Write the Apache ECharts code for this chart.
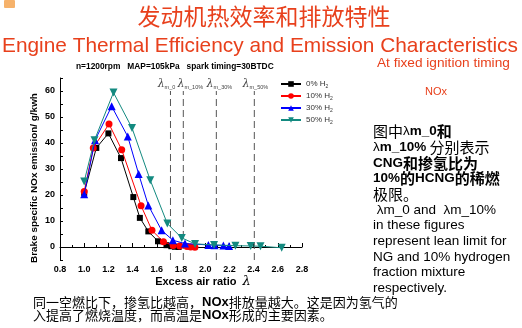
<!DOCTYPE html>
<html><head><meta charset="utf-8">
<script src="https://cdn.jsdelivr.net/npm/echarts@6/dist/echarts.min.js"></script>
<style>html,body{margin:0;padding:0;background:#fff}#c{width:522px;height:328px}</style>
</head><body><div id="c"></div>
<script>
// ---------- data ----------
const seriesNames = ['0% H2', '10% H2', '30% H2', '50% H2'];
const h2_0 = [[1.00,20.8],[1.10,38.1],[1.20,43.7],[1.304,34.2],[1.406,19.2],[1.46,11.2],[1.53,6.0],[1.61,2.2],[1.68,0.7],[1.72,0.3],[1.75,0.1],[1.78,0.0]];
const h2_10 = [[1.00,21.3],[1.075,38.1],[1.205,47.3],[1.31,37.4],[1.47,15.9],[1.56,6.4],[1.655,2.0],[1.735,0.6],[1.79,0.4],[1.85,0.2],[1.88,0.0],[1.915,-0.1]];
const h2_30 = [[1.00,20.3],[1.09,41.1],[1.227,54.1],[1.36,42.5],[1.45,28.1],[1.53,16.0],[1.64,6.4],[1.733,2.6],[1.833,1.3],[2.026,0.8],[2.077,0.7],[2.15,0.6],[2.197,0.4]];
const h2_50 = [[1.00,25.2],[1.085,41.1],[1.242,59.4],[1.395,45.8],[1.546,25.7],[1.687,9.0],[1.806,3.5],[1.916,1.2],[2.073,0.8],[2.25,0.5],[2.376,0.4],[2.457,0.3],[2.632,-0.3]];
const leanLimitX = [1.713, 1.819, 2.092, 2.406];
const leanLimitSub = ['m_0', 'm_10%', 'm_30%', 'm_50%'];
const leanLineRange = [-5, 60];
const xTicks = {min: 0.8, max: 2.8, step: 0.2};
const yTicks = {min: -5, max: 65, step: 5, labelMin: 0, labelMax: 60, labelStep: 10};

const titleCN = '发动机热效率和排放特性';
const titleEN = 'Engine Thermal Efficiency and Emission Characteristics';
const subTitle = 'n=1200rpm   MAP=105kPa   spark timing=30BTDC';
const noteRight = 'At fixed ignition timing';
const noteNOx = 'NOx';
const xName = 'Excess air ratio';
const yName = 'Brake specific NOx emission/ g/kwh';
const paraLines = [
  '{c|图中}{e|λ}{eb|m_0}{cb|和}',
  '{e|λ}{eb|m_10%} {c|分别表示}',
  '{eb|CNG}{cb|和掺氢比为}',
  '{eb|10%}{cb|的}{eb|HCNG}{cb|的稀燃}',
  '{c|极限。}',
  '{e| λm_0 and  λm_10%}',
  '{e|in these figures}',
  '{e|represent lean limit for}',
  '{e|NG and 10% hydrogen}',
  '{e|fraction mixture}',
  '{e|respectively.}'
];
const bottomLines = [
  '{c|同一空燃比下，掺氢比越高，}{eb|NOx}{c|排放量越大。这是因为氢气的}',
  '{c|入提高了燃烧温度，而高温是}{eb|NOx}{c|形成的主要因素。}'
];

// ---------- helpers ----------
const RED = '#e8401c';
const EN = '"Liberation Sans", Arial, sans-serif';
const CJK = '"Noto Sans CJK SC", sans-serif';
const cv = document.createElement('canvas').getContext('2d');
function fit(text, weight, family, width) {
  cv.font = weight + ' 100px ' + family;
  return 100 * width / cv.measureText(text).width;
}

const chart = echarts.init(document.getElementById('c'), null, {renderer: 'canvas'});
const sym = {
  '0% H2': {symbol: 'rect', size: 6, color: '#000000'},
  '10% H2': {symbol: 'circle', size: 7, color: '#ff0000'},
  '30% H2': {symbol: 'triangle', size: 8, color: '#0000ff'},
  '50% H2': {symbol: 'triangle', size: 8, color: '#138a80', rotate: 180}
};
const dataSets = [h2_0, h2_10, h2_30, h2_50];
const leanLabelOffset = [[-4, 0], [7, 0], [3, 0], [1, 0]];

const series = seriesNames.map((n, i) => ({
  name: n, type: 'line', data: dataSets[i],
  symbol: sym[n].symbol, symbolSize: sym[n].size, symbolRotate: sym[n].rotate || 0,
  showAllSymbol: true,
  itemStyle: {color: sym[n].color},
  lineStyle: {color: sym[n].color, width: 1},
  z: 3 + i
}));
leanLimitX.forEach((v, i) => {
  series.push({
    type: 'line', name: 'lean' + i, silent: true,
    data: [[v, leanLineRange[0]], {value: [v, leanLineRange[1]], label: {
      show: true, position: 'top', distance: 1, offset: leanLabelOffset[i],
      formatter: '{l|λ}{s|' + leanLimitSub[i] + '}',
      rich: {
        l: {fontFamily: 'DejaVu Serif', fontStyle: 'italic', fontSize: 11, color: '#444'},
        s: {fontFamily: EN, fontSize: 5.5, color: '#444', verticalAlign: 'bottom', padding: [6, 0, 0, 0]}
      }
    }}],
    symbol: 'circle', symbolSize: 0.01, showSymbol: true,
    itemStyle: {color: '#666'},
    lineStyle: {color: '#555', width: 1, type: [7, 4]},
    z: 2
  });
});

const option = {
  animation: false,
  backgroundColor: '#ffffff',
  grid: {left: 60, top: 78, width: 242, height: 182, containLabel: false},
  xAxis: {
    type: 'value', min: xTicks.min, max: xTicks.max, interval: xTicks.step,
    axisLine: {lineStyle: {color: '#000', width: 1}},
    axisTick: {inside: true, length: 4, lineStyle: {color: '#000'}},
    minorTick: {show: true, splitNumber: 2, length: 2, lineStyle: {color: '#000'}},
    splitLine: {show: false},
    axisLabel: {fontFamily: EN, fontWeight: 'bold', fontSize: 9, color: '#000', margin: 5,
      formatter: v => v.toFixed(1)}
  },
  yAxis: {
    type: 'value', min: yTicks.min, max: yTicks.max, interval: yTicks.step,
    axisLine: {show: true, lineStyle: {color: '#000', width: 1}},
    axisTick: {show: true, inside: true, length: 3, lineStyle: {color: '#000'}},
    splitLine: {show: false},
    axisLabel: {fontFamily: EN, fontWeight: 'bold', fontSize: 9, color: '#000', margin: 5,
      formatter: v => {
        const r = Math.round(v);
        return (r % yTicks.labelStep === 0 && r >= yTicks.labelMin && r <= yTicks.labelMax) ? String(r) : '';
      }}
  },
  legend: {
    data: seriesNames, orient: 'vertical', left: 275, top: 75,
    itemWidth: 20, itemHeight: 7, itemGap: 3,
    textStyle: {fontFamily: EN, fontSize: 8, color: '#333',
      rich: {s: {fontSize: 5, fontFamily: EN, color: '#333', verticalAlign: 'bottom', padding: [5, 0, 0, 0]}}},
    formatter: n => n.replace('H2', 'H{s|2}')
  },
  series: series,
  graphic: [
    {type: 'rect', shape: {x: 4, y: 0, width: 11, height: 8, r: 1}, style: {fill: '#f6b26b'}},
    {type: 'text', x: 264, y: 16, style: {text: titleCN, fill: RED, font: '23px ' + CJK, align: 'center', verticalAlign: 'middle'}},
    {type: 'text', x: 260, y: 46, style: {text: titleEN, fill: RED, font: fit(titleEN, 'normal', EN, 516).toFixed(2) + 'px ' + EN, align: 'center', verticalAlign: 'middle'}},
    {type: 'text', x: 76, y: 67, style: {text: subTitle, fill: '#000', font: 'bold ' + fit(subTitle, 'bold', EN, 198).toFixed(2) + 'px ' + EN, align: 'left', verticalAlign: 'middle'}},
    {type: 'text', x: 377, y: 63, style: {text: noteRight, fill: RED, font: fit(noteRight, 'normal', EN, 133).toFixed(2) + 'px ' + EN, align: 'left', verticalAlign: 'middle'}},
    {type: 'text', x: 425, y: 92, style: {text: noteNOx, fill: RED, font: '11px ' + EN, align: 'left', verticalAlign: 'middle'}},
    {type: 'text', x: 203, y: 282, style: {text: xName + '  {l|λ}', fill: '#000', font: 'bold 11px ' + EN, align: 'center', verticalAlign: 'middle',
      rich: {l: {fontFamily: 'DejaVu Serif', fontStyle: 'italic', fontSize: 13, color: '#000'}}}},
    {type: 'text', x: 34, y: 178, rotation: Math.PI / 2, style: {text: yName, fill: '#000', font: 'bold ' + fit(yName, 'bold', EN, 170).toFixed(2) + 'px ' + EN, align: 'center', verticalAlign: 'middle'}}
  ].concat(paraLines.map((t, i) => ({
    type: 'text', x: 373, y: 131.7 + i * 15.67,
    style: {text: t, align: 'left', verticalAlign: 'middle', fill: '#000',
      rich: {
        c: {fontFamily: CJK, fontSize: 15, color: '#000'},
        cb: {fontFamily: CJK, fontSize: 15, fontWeight: 'bold', color: '#000'},
        e: {fontFamily: EN, fontSize: 13.5, color: '#000'},
        eb: {fontFamily: EN, fontSize: 13.5, fontWeight: 'bold', color: '#000'}
      }}
  }))).concat(bottomLines.map((t, i) => ({
    type: 'text', x: 33, y: 302.5 + i * 12.5,
    style: {text: t, align: 'left', verticalAlign: 'middle', fill: '#000',
      rich: {
        c: {fontFamily: CJK, fontSize: 13, color: '#000'},
        eb: {fontFamily: EN, fontSize: 13, fontWeight: 'bold', color: '#000'}
      }}
  })))
};
chart.setOption(option);
</script></body></html>
